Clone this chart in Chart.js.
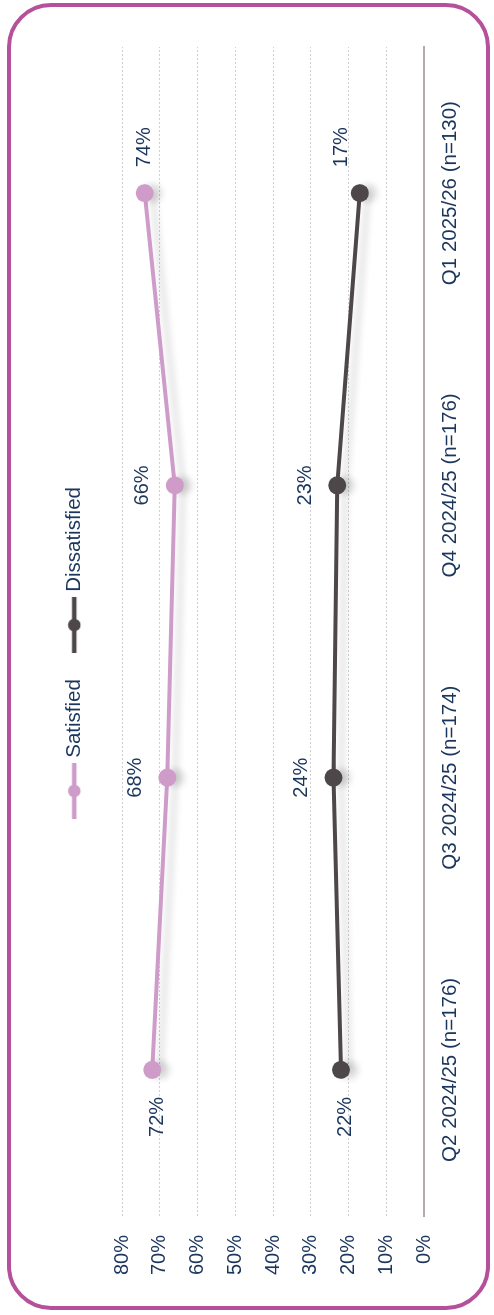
<!DOCTYPE html>
<html lang="en">
<head>
  <meta charset="UTF-8">
  <title>Satisfaction by quarter</title>
  <script src="https://cdn.jsdelivr.net/npm/chart.js"></script>
  <style>
    html, body {
      margin: 0;
      padding: 0;
      background: #fff;
      overflow: hidden;
    }
    .frame {
      position: absolute;
      left: 7px;
      top: 3px;
      width: 483px;
      height: 1307px;
      box-sizing: border-box;
      border: 4px solid #b4519a;
      border-radius: 44px;
    }
    /* the chart is laid out landscape, then turned on its side */
    .turn {
      position: absolute;
      left: 0;
      top: 0;
      width: 1315px;
      height: 494px;
      transform-origin: 0 0;
      transform: translateY(1315px) rotate(-90deg);
    }
  </style>
</head>
<body>

<div class="frame"></div>
<div class="turn">
  <canvas id="satChart" width="1315" height="494"></canvas>
</div>

<script>
const quarters = ['Q2 2024/25 (n=176)', 'Q3 2024/25 (n=174)', 'Q4 2024/25 (n=176)', 'Q1 2025/26 (n=130)'];
const satisfied = [72, 68, 66, 74];
const dissatisfied = [22, 24, 23, 17];
const yTicks = [0, 10, 20, 30, 40, 50, 60, 70, 80];

const navy = '#1b365d';
const pink = '#cf9cca';
const charcoal = '#4d4749';
const font = "'Liberation Sans', Arial, sans-serif";

// legend swatch: short thick line with a dot in the middle
function swatch(color) {
  const c = document.createElement('canvas');
  c.width = 56;
  c.height = 16;
  const g = c.getContext('2d');
  g.strokeStyle = color;
  g.lineWidth = 4.5;
  g.beginPath();
  g.moveTo(0, 8);
  g.lineTo(56, 8);
  g.stroke();
  g.fillStyle = color;
  g.beginPath();
  g.arc(28, 8, 6.3, 0, Math.PI * 2);
  g.fill();
  return c;
}

// soft drop shadow under the lines, then the value labels
const lineExtras = {
  id: 'lineExtras',
  afterLayout(chart) {
    // legend sits near the top edge, nudged a little to the right
    const lg = chart.legend;
    const h = lg.bottom - lg.top;
    lg.top = 33;
    lg.bottom = 33 + h;
    lg.left += 11;
    lg.right += 11;
  },
  beforeDatasetsDraw(chart) {
    const ctx = chart.ctx;
    ctx.save();
    ctx.shadowColor = 'rgba(0,0,0,0.16)';
    ctx.shadowBlur = 7;
    ctx.shadowOffsetY = 8;
  },
  afterDatasetsDraw(chart) {
    const ctx = chart.ctx;
    ctx.restore();
    ctx.save();
    ctx.font = '20px ' + font;
    ctx.fillStyle = navy;
    ctx.textAlign = 'center';
    ctx.textBaseline = 'middle';
    chart.data.datasets.forEach((ds, di) => {
      const pts = chart.getDatasetMeta(di).data;
      pts.forEach((pt, i) => {
        let x = pt.x, y = pt.y;
        if (i === 0) { x -= 47; y += 5; }
        else if (i === pts.length - 1) { x += 46; y -= ds.lastLift || 0; }
        else { y -= 32; }
        ctx.fillText(ds.data[i] + '%', x, y);
      });
    });
    ctx.restore();
  }
};

const ctx = document.getElementById('satChart').getContext('2d');
new Chart(ctx, {
  type: 'line',
  data: {
    labels: quarters,
    datasets: [{
      label: 'Satisfied',
      data: satisfied,
      borderColor: pink,
      backgroundColor: pink,
      borderWidth: 4,
      pointRadius: 9,
      pointBackgroundColor: pink,
      pointBorderWidth: 0,
      tension: 0,
      swatch: swatch(pink)
    }, {
      label: 'Dissatisfied',
      data: dissatisfied,
      borderColor: charcoal,
      backgroundColor: charcoal,
      borderWidth: 4,
      pointRadius: 9,
      pointBackgroundColor: charcoal,
      pointBorderWidth: 0,
      tension: 0,
      lastLift: 18,
      swatch: swatch(charcoal)
    }]
  },
  options: {
    responsive: false,
    animation: false,
    layout: { padding: { top: 32, left: 39, right: 47, bottom: 0 } },
    plugins: {
      tooltip: { enabled: false },
      legend: {
        position: 'top',
        labels: {
          usePointStyle: true,
          pointStyleWidth: 46,
          padding: 31,
          color: navy,
          font: { family: font, size: 20.5 },
          generateLabels(chart) {
            return chart.data.datasets.map((ds, i) => ({
              text: ds.label,
              pointStyle: ds.swatch,
              fontColor: navy,
              lineWidth: 0,
              hidden: false,
              datasetIndex: i
            }));
          }
        }
      }
    },
    scales: {
      x: {
        offset: true,
        grid: { display: false, drawTicks: false },
        border: { display: true, color: '#b5aaad', width: 2 },
        ticks: { color: navy, padding: 14, maxRotation: 0, font: { family: font, size: 20.5 } },
        afterFit(s) { s.height = 70; }
      },
      y: {
        min: 0,
        max: 80,
        afterBuildTicks(s) { s.ticks = yTicks.map(v => ({ value: v })); },
        grid: { color: '#cfcfcf', lineWidth: 1, drawTicks: false },
        border: { display: false, dash: [2, 2] },
        ticks: {
          color: navy,
          padding: 19,
          font: { family: font, size: 20 },
          callback: v => v + '%'
        },
        // fixed axis width, and keep the plot clear of the legend
        afterFit(s) { s.width = 60; s.paddingTop = 122; }
      }
    }
  },
  plugins: [lineExtras]
});
</script>

</body>
</html>
